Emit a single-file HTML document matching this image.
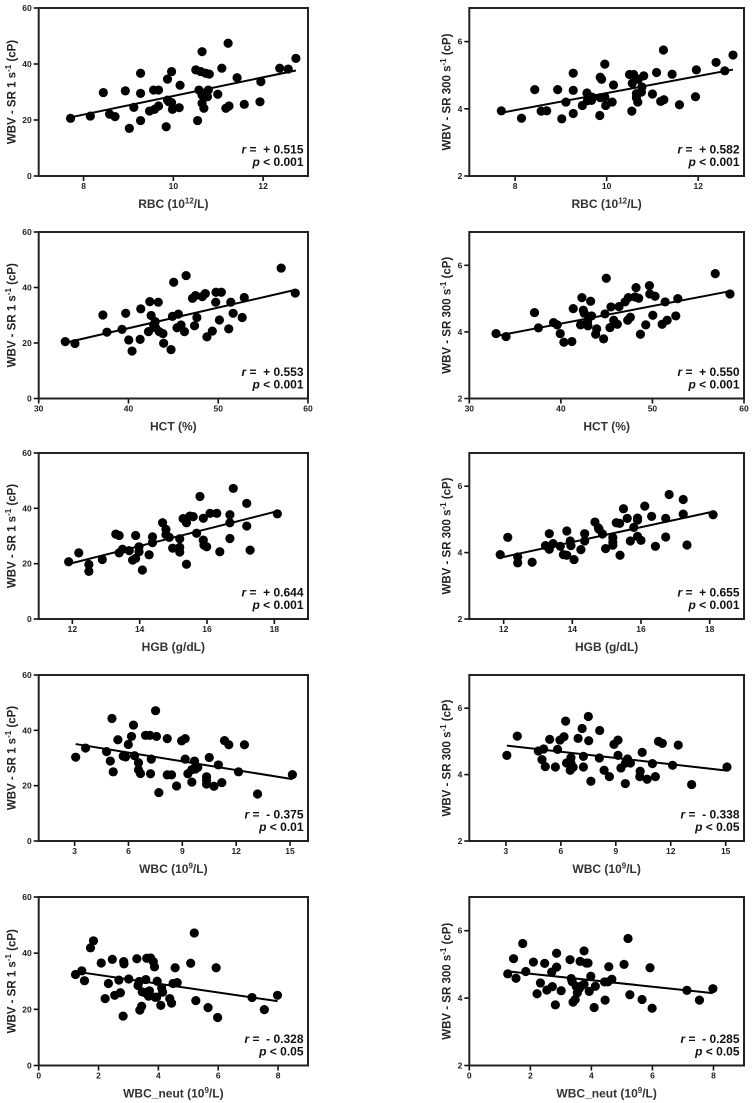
<!DOCTYPE html>
<html><head><meta charset="utf-8"><style>
html,body{margin:0;padding:0;background:#fff;}
svg{display:block;font-family:"Liberation Sans",Arial,sans-serif;}
</style></head><body>
<svg id="fig" width="753" height="1103" viewBox="0 0 753 1103" xmlns="http://www.w3.org/2000/svg"></svg>
<script>
// ---- data ----
const rbcX1=[7.71,8.15,8.44,8.58,8.70,8.93,9.02,9.12,9.27,9.27,9.27,9.47,9.56,9.58,9.67,9.67,9.84,9.87,9.87,9.9,9.96,9.96,9.98,10.13,10.15,10.5,10.54,10.57,10.61,10.64,10.64,10.64,10.68,10.72,10.76,10.78,10.8,10.99,11.08,11.17,11.22,11.24,11.42,11.58,11.93,11.95,12.37,12.56,12.73];
const rbcY1=[20.6,21.4,29.8,22.1,21.2,30.4,17.0,24.5,36.7,29.5,19.8,23.2,30.7,23.8,25.0,30.7,17.6,34.6,27.1,26.5,37.3,26.2,23.8,24.4,32.4,37.9,19.8,30.7,37.3,44.4,28.9,26.0,24.2,36.7,28.3,30.7,36.4,29.2,38.5,24.2,47.4,25.0,35.1,25.6,26.5,33.7,38.5,38.2,42.0];
const rbcX2=[7.70,8.14,8.43,8.57,8.69,8.93,9.02,9.11,9.27,9.27,9.27,9.47,9.57,9.58,9.67,9.68,9.85,9.86,9.86,9.89,9.96,9.96,9.98,10.12,10.15,10.50,10.55,10.56,10.59,10.65,10.65,10.68,10.69,10.76,10.77,10.81,11.0,11.09,11.18,11.24,11.25,11.43,11.59,11.94,11.96,12.39,12.58,12.76];
const rbcY2=[3.94,3.72,4.57,3.93,3.94,4.57,3.70,4.20,5.06,4.55,3.86,4.10,4.47,4.24,4.25,4.35,3.80,4.94,4.33,4.88,5.33,4.35,4.10,4.20,4.71,5.02,3.93,4.76,5.02,4.45,4.33,4.20,4.88,4.50,4.65,4.98,4.44,5.08,4.22,5.75,4.27,5.03,4.12,4.36,5.16,5.38,5.13,5.60];
const hctX1=[32.96,34.04,37.15,37.6,39.28,39.69,40.03,40.4,41.3,41.37,42.23,42.38,42.53,42.8,42.98,43.02,43.32,43.43,43.84,43.92,44.74,44.9,45.04,45.41,45.56,45.86,46.24,46.42,47.13,47.36,47.47,47.62,48.22,48.56,48.74,49.34,49.72,49.75,50.13,50.35,51.4,51.17,51.66,52.67,52.9,57.01,58.58];
const hctY1=[20.5,19.8,30.1,23.9,24.9,30.7,21.1,17.1,21.3,32.3,24.1,34.9,29.9,26.5,27.7,25.5,34.7,24.1,23.4,19.9,17.6,29.6,41.9,25.5,30.4,26.5,24.1,44.3,36.1,26.2,37.1,29.2,36.7,37.8,22.2,24.3,34.7,38.3,28.3,38.3,34.7,25.1,30.7,29.2,36.4,47.0,38.0];
const hctX2=[32.92,34.01,37.12,37.55,39.2,39.6,39.93,40.33,41.2,41.35,42.15,42.3,42.45,42.55,42.92,42.96,43.25,43.36,43.8,43.91,44.67,44.82,44.96,45.36,45.47,45.77,46.17,46.35,47.01,47.3,47.37,47.59,48.1,48.21,48.5,48.69,49.27,49.67,49.71,50.04,50.29,51.06,51.39,51.61,52.55,52.77,56.86,58.47];
const hctY2=[3.95,3.86,4.58,4.12,4.28,4.21,3.95,3.69,3.71,4.70,4.21,5.03,4.65,4.56,4.32,4.18,4.92,4.48,3.93,4.09,3.79,4.54,5.61,4.13,4.75,4.35,4.23,4.76,4.90,4.35,5.03,4.44,5.05,5.33,5.01,3.93,4.21,5.39,5.14,4.50,5.07,4.23,4.90,4.35,4.48,5.00,5.75,5.14];
const hgbX1=[11.89,12.19,12.49,12.49,12.89,13.29,13.39,13.39,13.49,13.69,13.79,13.88,13.88,13.98,13.98,14.28,14.08,14.38,14.38,14.68,14.78,14.78,14.88,14.98,15.19,15.19,15.19,15.29,15.39,15.39,15.49,15.59,15.69,15.79,15.89,15.89,15.91,15.99,16.09,16.29,16.38,16.68,16.68,16.68,16.78,17.18,17.18,17.28,18.09];
const hgbY1=[20.7,23.9,19.7,17.2,21.5,30.7,30.2,23.9,25.2,24.7,21.3,30.2,21.9,26.1,24.3,23.2,17.7,29.7,27.6,34.8,32.4,30.5,29.5,25.6,29.0,25.9,24.2,36.3,34.8,19.8,37.2,37.0,31.0,44.3,36.4,28.5,26.7,26.1,38.2,38.2,24.3,37.7,34.8,29.1,47.2,41.8,33.6,24.9,38.0];
const hgbX2=[11.9,12.12,12.41,12.41,12.83,13.22,13.33,13.33,13.44,13.65,13.74,13.84,13.84,13.94,13.96,14.05,14.25,14.36,14.36,14.66,14.76,14.78,14.88,14.97,15.18,15.18,15.18,15.28,15.38,15.39,15.49,15.6,15.69,15.79,15.9,15.9,15.9,16.0,16.11,16.31,16.42,16.72,16.72,16.82,17.23,17.23,17.34,18.1];
const hgbY2=[3.94,4.46,3.87,3.69,3.71,4.21,4.10,4.57,4.27,4.19,3.94,4.65,3.92,4.35,4.21,3.79,4.09,4.57,4.35,4.92,4.74,4.70,4.56,4.12,4.45,4.32,4.22,4.90,4.88,3.92,5.32,5.03,4.35,4.76,5.04,4.98,4.49,4.37,5.40,5.09,4.19,5.03,4.47,5.75,5.60,5.16,4.23,5.14];
const wbcX1=[3.06,3.61,4.78,4.99,5.08,5.15,5.41,5.71,5.84,5.99,6.17,6.28,6.34,6.56,6.56,6.67,6.95,7.19,7.27,7.23,7.51,7.56,7.69,8.16,8.16,8.4,8.68,8.96,9.16,9.16,9.31,9.53,9.53,9.68,9.72,9.86,10.35,10.35,10.35,10.5,10.76,11.01,11.2,11.35,11.59,12.13,12.46,13.19,15.13];
const wbcY1=[30.3,33.6,32.3,28.9,44.3,25.0,36.6,30.7,30.4,34.9,37.8,41.9,30.8,28.3,25.7,24.4,38.2,38.2,29.6,24.3,47.1,37.8,17.5,37.0,23.9,23.9,19.9,36.2,37.0,29.6,24.3,21.3,25.8,28.9,26.0,26.6,23.2,21.9,20.6,30.2,19.8,27.5,21.1,36.3,34.8,25.0,34.8,17.0,24.0];
const wbcX2=[3.05,3.62,4.77,4.97,5.06,5.15,5.39,5.70,5.82,5.95,6.17,6.26,6.31,6.55,6.55,6.51,6.67,6.94,7.16,7.23,7.23,7.52,7.5,7.64,8.12,8.1,8.36,8.65,8.9,9.12,9.12,9.28,9.52,9.53,9.64,9.7,9.8,10.31,10.33,10.44,10.71,11.0,11.16,11.33,11.54,12.1,12.41,13.14,15.07];
const wbcY2=[4.58,5.16,4.71,4.45,4.77,4.24,5.06,4.23,4.76,5.04,5.14,5.61,4.35,4.51,4.35,4.13,4.22,5.09,5.39,4.55,4.23,5.02,5.75,3.80,5.33,4.50,4.13,3.94,4.91,5.04,4.58,4.20,3.73,4.35,4.47,4.37,4.35,3.94,4.10,4.67,3.86,4.33,3.94,5.00,4.94,4.28,4.89,3.70,4.23];
const neuX1=[1.23,1.44,1.53,1.73,1.83,2.09,2.22,2.33,2.46,2.54,2.68,2.73,2.82,2.84,2.85,3.01,3.28,3.32,3.36,3.38,3.44,3.46,3.56,3.58,3.61,3.67,3.7,3.74,3.83,3.87,3.89,3.94,3.96,4.08,4.11,4.14,4.38,4.44,4.49,4.56,4.63,5.08,5.2,5.25,5.66,5.93,5.98,7.13,7.54,7.98];
const neuY1=[32.4,33.7,30.2,41.9,44.4,36.5,23.8,29.2,37.8,25.0,30.4,25.9,17.6,37.0,36.2,30.8,38.0,28.5,29.9,19.7,21.1,26.2,25.9,30.6,38.2,24.7,26.6,38.3,37.0,35.1,24.3,24.3,30.0,21.4,27.6,26.1,23.8,22.2,29.2,34.8,29.5,36.4,47.2,23.1,20.6,34.8,17.1,24.2,19.9,25.0];
const neuX2=[1.26,1.45,1.53,1.75,1.85,2.1,2.22,2.33,2.47,2.54,2.70,2.72,2.82,2.86,2.86,3.01,3.3,3.34,3.37,3.4,3.47,3.5,3.54,3.6,3.63,3.67,3.76,3.76,3.83,3.89,3.93,3.98,4.09,4.13,4.43,4.45,4.54,4.57,4.67,5.07,5.2,5.26,5.66,5.92,5.99,7.13,7.54,7.98];
const neuY2=[4.72,5.17,4.59,5.62,4.79,5.07,4.13,4.45,5.03,4.24,4.77,4.34,3.80,4.92,5.33,4.22,5.14,4.58,4.49,3.88,3.96,4.35,4.16,4.28,5.09,4.36,5.40,4.41,5.04,5.04,4.20,4.65,3.72,4.35,4.48,3.94,4.48,4.93,4.56,5.00,5.77,4.10,3.96,4.90,3.70,4.23,3.94,4.28];
const rValues=["+ 0.515","+ 0.582","+ 0.553","+ 0.550","+ 0.644","+ 0.655","- 0.375","- 0.338","- 0.328","- 0.285"];
const pValues=["0.001","0.001","0.001","0.001","0.001","0.001","0.01","0.05","0.05","0.05"];
const xTicksRBC=[8,10,12], xTicksHCT=[30,40,50,60], xTicksHGB=[12,14,16,18], xTicksWBC=[3,6,9,12,15], xTicksNeut=[0,2,4,6,8];
const yTicksSR1=[0,20,40,60], yTicksSR300=[2,4,6];

const NS="http://www.w3.org/2000/svg";
const svg=document.getElementById('fig');
function mk(tag,attrs,parent){const e=document.createElementNS(NS,tag);for(const k in attrs)e.setAttribute(k,attrs[k]);(parent||svg).appendChild(e);return e;}
function rich(parent,segs,sup){
  segs.forEach((s,i)=>{const t=mk('tspan',{},parent);t.textContent=s;
    if(i%2===1){t.setAttribute('dy',-4.5);t.setAttribute('font-size',sup);}
    else if(i>0){t.setAttribute('dy',4.5);}});
}
const rows=[[8,176],[232,398.5],[453,619],[675,841],[897,1065.5]];
const cols=[[38.7,308],[469.3,744]];
const rowSpec=[
 {xr:[7,13],ticks:xTicksRBC,title:["RBC (10","12","/L)"],key:'rbc',d:[[rbcX1,rbcY1],[rbcX2,rbcY2]]},
 {xr:[30,60],ticks:xTicksHCT,title:["HCT (%)"],key:'hct',d:[[hctX1,hctY1],[hctX2,hctY2]]},
 {xr:[11,19],ticks:xTicksHGB,title:["HGB (g/dL)"],key:'hgb',d:[[hgbX1,hgbY1],[hgbX2,hgbY2]]},
 {xr:[1,16],ticks:xTicksWBC,title:["WBC (10","9","/L)"],key:'wbc',d:[[wbcX1,wbcY1],[wbcX2,wbcY2]]},
 {xr:[0,9],ticks:xTicksNeut,title:["WBC_neut (10","9","/L)"],key:'neut',d:[[neuX1,neuY1],[neuX2,neuY2]]}
];
rowSpec.forEach((rs,ri)=>{
 [0,1].forEach(ci=>{
  const [x0,x1]=cols[ci],[y0,y1]=rows[ri];
  const yr=ci===0?[0,60]:[2,7], yt=ci===0?yTicksSR1:yTicksSR300;
  const xs=rs.d[ci][0], ys=rs.d[ci][1];
  const sx=v=>x0+(v-rs.xr[0])/(rs.xr[1]-rs.xr[0])*(x1-x0);
  const sy=v=>y1-(v-yr[0])/(yr[1]-yr[0])*(y1-y0);
  const g=mk('g',{});
  
  
  yt.forEach(v=>{
   const tk=mk('line',{x1:x0-5,x2:x0,y1:sy(v),y2:sy(v),stroke:'#111','stroke-width':1.6},g);
   
   
   const tl=mk('text',{x:x0-7,y:sy(v)+3,'text-anchor':'end','font-size':8.5,'font-weight':'bold',fill:'#222'},g);
   tl.textContent=v;
   
   
  });
  rs.ticks.forEach(v=>{
   const tk=mk('line',{x1:sx(v),x2:sx(v),y1:y1,y2:y1+5,stroke:'#111','stroke-width':1.6},g);
   
   
   const tl=mk('text',{x:sx(v),y:y1+13,'text-anchor':'middle','font-size':8.5,'font-weight':'bold',fill:'#222'},g);
   tl.textContent=v;
   
   
  });
  xs.forEach((v,i)=>{
   const c=mk('circle',{cx:sx(v),cy:sy(ys[i]),r:4.6,fill:'#000'},g);
   
   
  });
  const n=xs.length,mx=xs.reduce((a,b)=>a+b,0)/n,my=ys.reduce((a,b)=>a+b,0)/n;
  let sxy=0,sxx=0;xs.forEach((v,i)=>{sxy+=(v-mx)*(ys[i]-my);sxx+=(v-mx)*(v-mx);});
  const b=sxy/sxx,a=my-b*mx,xmin=Math.min(...xs),xmax=Math.max(...xs);
  const rl=mk('line',{x1:sx(xmin),y1:sy(a+b*xmin),x2:sx(xmax),y2:sy(a+b*xmax),stroke:'#000','stroke-width':2},g);
  
  
  const fr=mk('rect',{x:x0,y:y0,width:x1-x0,height:y1-y0,fill:'none',stroke:'#222','stroke-width':2},g);
  
  
  const idx=ri*2+ci;
  const t1=mk('text',{x:x1-4.5,y:y1-22.5,'text-anchor':'end','font-size':12,'font-weight':'bold',fill:'#111'},g);
  const r1=mk('tspan',{'font-style':'italic'},t1);r1.textContent='r';
  const r2=mk('tspan',{},t1);r2.textContent=' =\u00a0 '+rValues[idx];
  
  
  const t2=mk('text',{x:x1-4.5,y:y1-10,'text-anchor':'end','font-size':12,'font-weight':'bold',fill:'#111'},g);
  const p1=mk('tspan',{'font-style':'italic'},t2);p1.textContent='p';
  const p2=mk('tspan',{},t2);p2.textContent=' < '+pValues[idx];
  
  
  const xt=mk('text',{x:(x0+x1)/2,y:y1+32,'text-anchor':'middle','font-size':12,'font-weight':'bold',fill:'#333'},g);
  rich(xt,rs.title,8);
  
  
  const cx=ci===0?12.5:447.5, cy=(y0+y1)/2;
  const ytt=mk('text',{x:cx,y:cy,'text-anchor':'middle','dominant-baseline':'central','font-size':11.5,'font-weight':'bold',fill:'#222',transform:`rotate(-90 ${cx} ${cy})`},g);
  rich(ytt,[ci===0?"WBV - SR 1 s":"WBV - SR 300 s","-1"," (cP)"],8);
  
  
 });
});
</script>
</body></html>
